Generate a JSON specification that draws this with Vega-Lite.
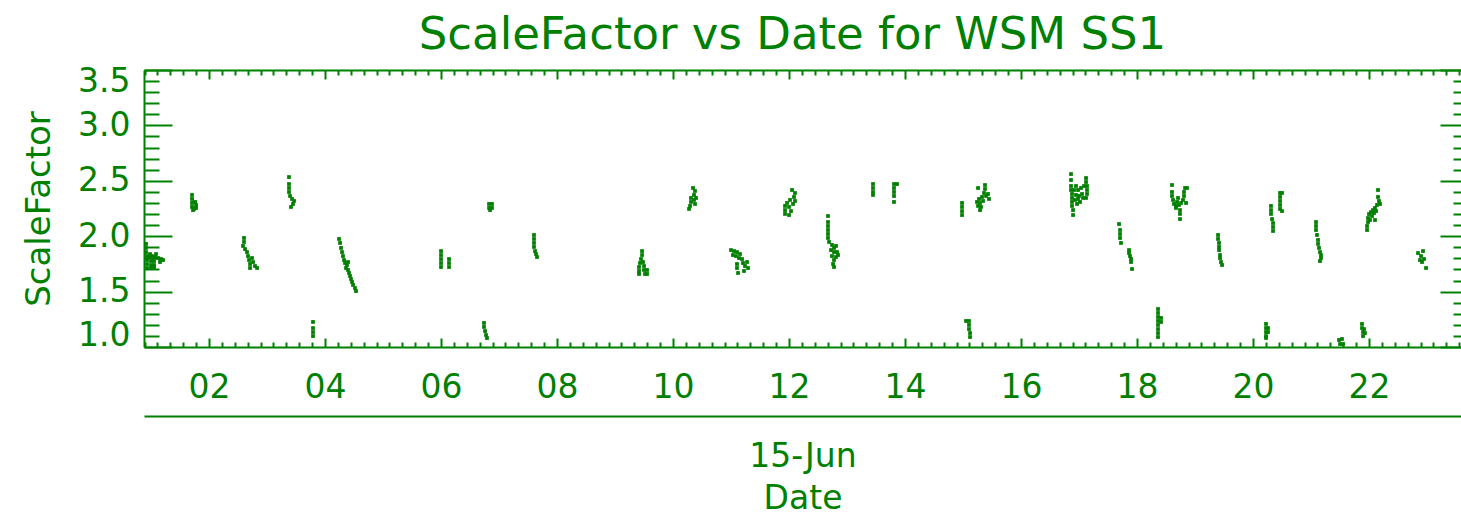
{
  "$schema": "https://vega.github.io/schema/vega-lite/v6.json",
  "width": 1317,
  "height": 277,
  "autosize": {"type": "none"},
  "padding": {"left": 144, "top": 70, "right": 0, "bottom": 168},
  "background": "white",
  "title": {
    "text": "ScaleFactor vs Date for WSM SS1",
    "font": "DejaVu Sans",
    "fontSize": 45,
    "fontWeight": "normal",
    "color": "#008000",
    "anchor": "middle",
    "frame": "group",
    "offset": 14,
    "baseline": "alphabetic",
    "dx": -10,
    "dy": 43
  },
  "config": {
    "view": {"stroke": null},
    "axis": {
      "domainColor": "#008000",
      "tickColor": "#008000",
      "labelColor": "#008000",
      "titleColor": "#008000",
      "domainWidth": 2,
      "tickWidth": 2,
      "grid": false,
      "labelFont": "DejaVu Sans",
      "titleFont": "DejaVu Sans",
      "labelFontSize": 33,
      "titleFontSize": 34,
      "titleFontWeight": "normal",
      "labelOverlap": false
    }
  },
  "data": {
    "values": [
      {"hour": 0.914, "ScaleFactor": 1.930}, {"hour": 0.914, "ScaleFactor": 1.894}, {"hour": 0.914, "ScaleFactor": 1.857},
      {"hour": 0.931, "ScaleFactor": 1.821}, {"hour": 0.966, "ScaleFactor": 1.812}, {"hour": 1.017, "ScaleFactor": 1.821},
      {"hour": 1.069, "ScaleFactor": 1.812}, {"hour": 1.121, "ScaleFactor": 1.803}, {"hour": 1.172, "ScaleFactor": 1.794},
      {"hour": 1.207, "ScaleFactor": 1.785}, {"hour": 0.931, "ScaleFactor": 1.785}, {"hour": 0.931, "ScaleFactor": 1.749},
      {"hour": 0.931, "ScaleFactor": 1.713}, {"hour": 1.000, "ScaleFactor": 1.776}, {"hour": 1.000, "ScaleFactor": 1.740},
      {"hour": 1.000, "ScaleFactor": 1.713}, {"hour": 1.052, "ScaleFactor": 1.776}, {"hour": 1.052, "ScaleFactor": 1.740},
      {"hour": 1.052, "ScaleFactor": 1.713}, {"hour": 0.983, "ScaleFactor": 1.839}, {"hour": 1.086, "ScaleFactor": 1.839},
      {"hour": 1.155, "ScaleFactor": 1.767},
      {"hour": 1.707, "ScaleFactor": 2.372}, {"hour": 1.707, "ScaleFactor": 2.336}, {"hour": 1.707, "ScaleFactor": 2.300},
      {"hour": 1.707, "ScaleFactor": 2.264}, {"hour": 1.724, "ScaleFactor": 2.236}, {"hour": 1.759, "ScaleFactor": 2.309},
      {"hour": 1.776, "ScaleFactor": 2.282}, {"hour": 1.776, "ScaleFactor": 2.255}, {"hour": 1.741, "ScaleFactor": 2.246},
      {"hour": 2.603, "ScaleFactor": 1.984}, {"hour": 2.603, "ScaleFactor": 1.948}, {"hour": 2.586, "ScaleFactor": 1.912},
      {"hour": 2.621, "ScaleFactor": 1.884}, {"hour": 2.655, "ScaleFactor": 1.857}, {"hour": 2.672, "ScaleFactor": 1.821},
      {"hour": 2.690, "ScaleFactor": 1.785}, {"hour": 2.707, "ScaleFactor": 1.749}, {"hour": 2.707, "ScaleFactor": 1.713},
      {"hour": 2.741, "ScaleFactor": 1.803}, {"hour": 2.759, "ScaleFactor": 1.767}, {"hour": 2.793, "ScaleFactor": 1.731},
      {"hour": 2.828, "ScaleFactor": 1.713},
      {"hour": 3.379, "ScaleFactor": 2.534}, {"hour": 3.379, "ScaleFactor": 2.471}, {"hour": 3.379, "ScaleFactor": 2.435},
      {"hour": 3.379, "ScaleFactor": 2.399}, {"hour": 3.397, "ScaleFactor": 2.363}, {"hour": 3.431, "ScaleFactor": 2.336},
      {"hour": 3.466, "ScaleFactor": 2.318}, {"hour": 3.448, "ScaleFactor": 2.291}, {"hour": 3.414, "ScaleFactor": 2.264},
      {"hour": 3.793, "ScaleFactor": 1.226}, {"hour": 3.793, "ScaleFactor": 1.171}, {"hour": 3.793, "ScaleFactor": 1.135},
      {"hour": 3.793, "ScaleFactor": 1.099},
      {"hour": 4.241, "ScaleFactor": 1.975}, {"hour": 4.259, "ScaleFactor": 1.939}, {"hour": 4.276, "ScaleFactor": 1.894},
      {"hour": 4.293, "ScaleFactor": 1.857}, {"hour": 4.310, "ScaleFactor": 1.821}, {"hour": 4.328, "ScaleFactor": 1.785},
      {"hour": 4.345, "ScaleFactor": 1.758}, {"hour": 4.379, "ScaleFactor": 1.740}, {"hour": 4.362, "ScaleFactor": 1.713},
      {"hour": 4.397, "ScaleFactor": 1.695}, {"hour": 4.414, "ScaleFactor": 1.668}, {"hour": 4.431, "ScaleFactor": 1.641},
      {"hour": 4.448, "ScaleFactor": 1.614}, {"hour": 4.466, "ScaleFactor": 1.587}, {"hour": 4.483, "ScaleFactor": 1.560},
      {"hour": 4.517, "ScaleFactor": 1.532}, {"hour": 4.534, "ScaleFactor": 1.505}, {"hour": 4.397, "ScaleFactor": 1.767},
      {"hour": 6.000, "ScaleFactor": 1.866}, {"hour": 6.000, "ScaleFactor": 1.830}, {"hour": 6.000, "ScaleFactor": 1.794},
      {"hour": 6.000, "ScaleFactor": 1.758}, {"hour": 6.000, "ScaleFactor": 1.722}, {"hour": 6.138, "ScaleFactor": 1.794},
      {"hour": 6.138, "ScaleFactor": 1.758}, {"hour": 6.138, "ScaleFactor": 1.722},
      {"hour": 6.741, "ScaleFactor": 1.217}, {"hour": 6.741, "ScaleFactor": 1.181}, {"hour": 6.759, "ScaleFactor": 1.144},
      {"hour": 6.776, "ScaleFactor": 1.108}, {"hour": 6.793, "ScaleFactor": 1.081},
      {"hour": 6.828, "ScaleFactor": 2.291}, {"hour": 6.879, "ScaleFactor": 2.291}, {"hour": 6.828, "ScaleFactor": 2.255},
      {"hour": 6.879, "ScaleFactor": 2.255}, {"hour": 6.845, "ScaleFactor": 2.236},
      {"hour": 7.603, "ScaleFactor": 2.011}, {"hour": 7.603, "ScaleFactor": 1.975}, {"hour": 7.603, "ScaleFactor": 1.939},
      {"hour": 7.603, "ScaleFactor": 1.903}, {"hour": 7.621, "ScaleFactor": 1.866}, {"hour": 7.638, "ScaleFactor": 1.839},
      {"hour": 7.655, "ScaleFactor": 1.812},
      {"hour": 9.466, "ScaleFactor": 1.866}, {"hour": 9.466, "ScaleFactor": 1.830}, {"hour": 9.448, "ScaleFactor": 1.794},
      {"hour": 9.431, "ScaleFactor": 1.758}, {"hour": 9.414, "ScaleFactor": 1.722}, {"hour": 9.414, "ScaleFactor": 1.686},
      {"hour": 9.414, "ScaleFactor": 1.659}, {"hour": 9.483, "ScaleFactor": 1.767}, {"hour": 9.500, "ScaleFactor": 1.731},
      {"hour": 9.500, "ScaleFactor": 1.695}, {"hour": 9.517, "ScaleFactor": 1.659}, {"hour": 9.552, "ScaleFactor": 1.695},
      {"hour": 9.552, "ScaleFactor": 1.659},
      {"hour": 10.345, "ScaleFactor": 2.435}, {"hour": 10.379, "ScaleFactor": 2.408}, {"hour": 10.362, "ScaleFactor": 2.372},
      {"hour": 10.310, "ScaleFactor": 2.345}, {"hour": 10.310, "ScaleFactor": 2.309}, {"hour": 10.362, "ScaleFactor": 2.327},
      {"hour": 10.379, "ScaleFactor": 2.291}, {"hour": 10.293, "ScaleFactor": 2.273}, {"hour": 10.276, "ScaleFactor": 2.246},
      {"hour": 10.397, "ScaleFactor": 2.345},
      {"hour": 11.000, "ScaleFactor": 1.875}, {"hour": 11.052, "ScaleFactor": 1.866}, {"hour": 11.103, "ScaleFactor": 1.857},
      {"hour": 11.155, "ScaleFactor": 1.839}, {"hour": 11.034, "ScaleFactor": 1.830}, {"hour": 11.086, "ScaleFactor": 1.821},
      {"hour": 11.138, "ScaleFactor": 1.803}, {"hour": 11.190, "ScaleFactor": 1.794}, {"hour": 11.103, "ScaleFactor": 1.749},
      {"hour": 11.103, "ScaleFactor": 1.713}, {"hour": 11.121, "ScaleFactor": 1.668}, {"hour": 11.207, "ScaleFactor": 1.758},
      {"hour": 11.241, "ScaleFactor": 1.731}, {"hour": 11.276, "ScaleFactor": 1.767}, {"hour": 11.293, "ScaleFactor": 1.713},
      {"hour": 11.224, "ScaleFactor": 1.686},
      {"hour": 12.052, "ScaleFactor": 2.417}, {"hour": 12.103, "ScaleFactor": 2.390}, {"hour": 12.086, "ScaleFactor": 2.354},
      {"hour": 12.017, "ScaleFactor": 2.327}, {"hour": 11.966, "ScaleFactor": 2.300}, {"hour": 11.931, "ScaleFactor": 2.273},
      {"hour": 11.931, "ScaleFactor": 2.236}, {"hour": 11.931, "ScaleFactor": 2.201}, {"hour": 12.000, "ScaleFactor": 2.264},
      {"hour": 12.034, "ScaleFactor": 2.227}, {"hour": 12.000, "ScaleFactor": 2.191}, {"hour": 12.069, "ScaleFactor": 2.291},
      {"hour": 12.103, "ScaleFactor": 2.318},
      {"hour": 12.672, "ScaleFactor": 2.182}, {"hour": 12.672, "ScaleFactor": 2.128}, {"hour": 12.672, "ScaleFactor": 2.092},
      {"hour": 12.672, "ScaleFactor": 2.056}, {"hour": 12.672, "ScaleFactor": 2.020}, {"hour": 12.672, "ScaleFactor": 1.984},
      {"hour": 12.690, "ScaleFactor": 1.948}, {"hour": 12.741, "ScaleFactor": 1.921}, {"hour": 12.776, "ScaleFactor": 1.894},
      {"hour": 12.810, "ScaleFactor": 1.912}, {"hour": 12.724, "ScaleFactor": 1.875}, {"hour": 12.776, "ScaleFactor": 1.857},
      {"hour": 12.828, "ScaleFactor": 1.857}, {"hour": 12.741, "ScaleFactor": 1.821}, {"hour": 12.810, "ScaleFactor": 1.812},
      {"hour": 12.776, "ScaleFactor": 1.785}, {"hour": 12.759, "ScaleFactor": 1.749}, {"hour": 12.776, "ScaleFactor": 1.722},
      {"hour": 12.845, "ScaleFactor": 1.830},
      {"hour": 13.448, "ScaleFactor": 2.471}, {"hour": 13.448, "ScaleFactor": 2.435}, {"hour": 13.448, "ScaleFactor": 2.399},
      {"hour": 13.448, "ScaleFactor": 2.372},
      {"hour": 13.810, "ScaleFactor": 2.471}, {"hour": 13.862, "ScaleFactor": 2.471}, {"hour": 13.810, "ScaleFactor": 2.435},
      {"hour": 13.810, "ScaleFactor": 2.399}, {"hour": 13.810, "ScaleFactor": 2.363}, {"hour": 13.810, "ScaleFactor": 2.309},
      {"hour": 14.983, "ScaleFactor": 2.300}, {"hour": 14.983, "ScaleFactor": 2.264}, {"hour": 14.983, "ScaleFactor": 2.227},
      {"hour": 14.983, "ScaleFactor": 2.191},
      {"hour": 15.052, "ScaleFactor": 1.235}, {"hour": 15.103, "ScaleFactor": 1.235}, {"hour": 15.103, "ScaleFactor": 1.199},
      {"hour": 15.103, "ScaleFactor": 1.162}, {"hour": 15.121, "ScaleFactor": 1.126}, {"hour": 15.121, "ScaleFactor": 1.090},
      {"hour": 15.259, "ScaleFactor": 2.435}, {"hour": 15.379, "ScaleFactor": 2.462}, {"hour": 15.379, "ScaleFactor": 2.426},
      {"hour": 15.362, "ScaleFactor": 2.390}, {"hour": 15.328, "ScaleFactor": 2.354}, {"hour": 15.276, "ScaleFactor": 2.336},
      {"hour": 15.241, "ScaleFactor": 2.309}, {"hour": 15.293, "ScaleFactor": 2.300}, {"hour": 15.345, "ScaleFactor": 2.318},
      {"hour": 15.259, "ScaleFactor": 2.273}, {"hour": 15.310, "ScaleFactor": 2.264}, {"hour": 15.293, "ScaleFactor": 2.236},
      {"hour": 15.431, "ScaleFactor": 2.381}, {"hour": 15.448, "ScaleFactor": 2.336}, {"hour": 15.397, "ScaleFactor": 2.363},
      {"hour": 16.862, "ScaleFactor": 2.561}, {"hour": 16.862, "ScaleFactor": 2.507}, {"hour": 16.862, "ScaleFactor": 2.453},
      {"hour": 16.862, "ScaleFactor": 2.417}, {"hour": 16.879, "ScaleFactor": 2.381}, {"hour": 16.879, "ScaleFactor": 2.345},
      {"hour": 16.879, "ScaleFactor": 2.309}, {"hour": 16.879, "ScaleFactor": 2.273}, {"hour": 16.897, "ScaleFactor": 2.236},
      {"hour": 16.897, "ScaleFactor": 2.191}, {"hour": 16.931, "ScaleFactor": 2.327}, {"hour": 16.948, "ScaleFactor": 2.372},
      {"hour": 16.983, "ScaleFactor": 2.417}, {"hour": 17.000, "ScaleFactor": 2.363}, {"hour": 17.034, "ScaleFactor": 2.435},
      {"hour": 17.052, "ScaleFactor": 2.381}, {"hour": 17.017, "ScaleFactor": 2.309}, {"hour": 16.966, "ScaleFactor": 2.291},
      {"hour": 16.983, "ScaleFactor": 2.336}, {"hour": 17.086, "ScaleFactor": 2.453}, {"hour": 17.121, "ScaleFactor": 2.525},
      {"hour": 17.121, "ScaleFactor": 2.489}, {"hour": 17.138, "ScaleFactor": 2.453}, {"hour": 17.138, "ScaleFactor": 2.417},
      {"hour": 17.138, "ScaleFactor": 2.381}, {"hour": 17.121, "ScaleFactor": 2.345}, {"hour": 17.069, "ScaleFactor": 2.345},
      {"hour": 16.948, "ScaleFactor": 2.453}, {"hour": 16.914, "ScaleFactor": 2.417},
      {"hour": 17.690, "ScaleFactor": 2.110}, {"hour": 17.707, "ScaleFactor": 2.056}, {"hour": 17.707, "ScaleFactor": 2.020},
      {"hour": 17.707, "ScaleFactor": 1.984}, {"hour": 17.724, "ScaleFactor": 1.939},
      {"hour": 17.862, "ScaleFactor": 1.875}, {"hour": 17.862, "ScaleFactor": 1.848}, {"hour": 17.879, "ScaleFactor": 1.821},
      {"hour": 17.897, "ScaleFactor": 1.794}, {"hour": 17.897, "ScaleFactor": 1.767}, {"hour": 17.914, "ScaleFactor": 1.704},
      {"hour": 18.362, "ScaleFactor": 1.343}, {"hour": 18.362, "ScaleFactor": 1.307}, {"hour": 18.362, "ScaleFactor": 1.271},
      {"hour": 18.362, "ScaleFactor": 1.235}, {"hour": 18.362, "ScaleFactor": 1.199}, {"hour": 18.362, "ScaleFactor": 1.162},
      {"hour": 18.362, "ScaleFactor": 1.126}, {"hour": 18.362, "ScaleFactor": 1.090}, {"hour": 18.414, "ScaleFactor": 1.262},
      {"hour": 18.414, "ScaleFactor": 1.226},
      {"hour": 18.603, "ScaleFactor": 2.462}, {"hour": 18.603, "ScaleFactor": 2.399}, {"hour": 18.603, "ScaleFactor": 2.363},
      {"hour": 18.621, "ScaleFactor": 2.327}, {"hour": 18.638, "ScaleFactor": 2.291}, {"hour": 18.672, "ScaleFactor": 2.273},
      {"hour": 18.690, "ScaleFactor": 2.309}, {"hour": 18.724, "ScaleFactor": 2.282}, {"hour": 18.759, "ScaleFactor": 2.300},
      {"hour": 18.793, "ScaleFactor": 2.327}, {"hour": 18.810, "ScaleFactor": 2.363}, {"hour": 18.810, "ScaleFactor": 2.399},
      {"hour": 18.828, "ScaleFactor": 2.435}, {"hour": 18.862, "ScaleFactor": 2.435}, {"hour": 18.672, "ScaleFactor": 2.255},
      {"hour": 18.741, "ScaleFactor": 2.236}, {"hour": 18.741, "ScaleFactor": 2.201}, {"hour": 18.741, "ScaleFactor": 2.155},
      {"hour": 18.707, "ScaleFactor": 2.345}, {"hour": 18.845, "ScaleFactor": 2.300},
      {"hour": 19.397, "ScaleFactor": 2.011}, {"hour": 19.397, "ScaleFactor": 1.975}, {"hour": 19.414, "ScaleFactor": 1.939},
      {"hour": 19.414, "ScaleFactor": 1.903}, {"hour": 19.414, "ScaleFactor": 1.875}, {"hour": 19.431, "ScaleFactor": 1.830},
      {"hour": 19.431, "ScaleFactor": 1.803}, {"hour": 19.448, "ScaleFactor": 1.767}, {"hour": 19.466, "ScaleFactor": 1.740},
      {"hour": 20.224, "ScaleFactor": 1.208}, {"hour": 20.224, "ScaleFactor": 1.171}, {"hour": 20.224, "ScaleFactor": 1.135},
      {"hour": 20.224, "ScaleFactor": 1.099}, {"hour": 20.224, "ScaleFactor": 1.081}, {"hour": 20.259, "ScaleFactor": 1.171},
      {"hour": 20.259, "ScaleFactor": 1.135},
      {"hour": 20.310, "ScaleFactor": 2.273}, {"hour": 20.310, "ScaleFactor": 2.236}, {"hour": 20.310, "ScaleFactor": 2.201},
      {"hour": 20.328, "ScaleFactor": 2.155}, {"hour": 20.345, "ScaleFactor": 2.119}, {"hour": 20.345, "ScaleFactor": 2.083},
      {"hour": 20.345, "ScaleFactor": 2.047}, {"hour": 20.466, "ScaleFactor": 2.390}, {"hour": 20.500, "ScaleFactor": 2.390},
      {"hour": 20.466, "ScaleFactor": 2.354}, {"hour": 20.466, "ScaleFactor": 2.318}, {"hour": 20.466, "ScaleFactor": 2.282},
      {"hour": 20.466, "ScaleFactor": 2.246}, {"hour": 20.500, "ScaleFactor": 2.227},
      {"hour": 21.086, "ScaleFactor": 2.128}, {"hour": 21.086, "ScaleFactor": 2.092}, {"hour": 21.086, "ScaleFactor": 2.056},
      {"hour": 21.103, "ScaleFactor": 2.011}, {"hour": 21.121, "ScaleFactor": 1.966}, {"hour": 21.121, "ScaleFactor": 1.930},
      {"hour": 21.138, "ScaleFactor": 1.894}, {"hour": 21.155, "ScaleFactor": 1.857}, {"hour": 21.172, "ScaleFactor": 1.830},
      {"hour": 21.172, "ScaleFactor": 1.803}, {"hour": 21.155, "ScaleFactor": 1.776},
      {"hour": 21.483, "ScaleFactor": 1.063}, {"hour": 21.534, "ScaleFactor": 1.072}, {"hour": 21.500, "ScaleFactor": 1.027},
      {"hour": 21.552, "ScaleFactor": 1.027},
      {"hour": 21.879, "ScaleFactor": 1.208}, {"hour": 21.879, "ScaleFactor": 1.171}, {"hour": 21.897, "ScaleFactor": 1.135},
      {"hour": 21.897, "ScaleFactor": 1.099}, {"hour": 21.914, "ScaleFactor": 1.162}, {"hour": 21.931, "ScaleFactor": 1.126},
      {"hour": 22.155, "ScaleFactor": 2.417}, {"hour": 22.155, "ScaleFactor": 2.354}, {"hour": 22.172, "ScaleFactor": 2.318},
      {"hour": 22.138, "ScaleFactor": 2.282}, {"hour": 22.103, "ScaleFactor": 2.255}, {"hour": 22.069, "ScaleFactor": 2.236},
      {"hour": 22.034, "ScaleFactor": 2.218}, {"hour": 22.000, "ScaleFactor": 2.200}, {"hour": 21.983, "ScaleFactor": 2.164},
      {"hour": 21.983, "ScaleFactor": 2.128}, {"hour": 21.966, "ScaleFactor": 2.092}, {"hour": 21.966, "ScaleFactor": 2.056},
      {"hour": 22.052, "ScaleFactor": 2.182}, {"hour": 22.086, "ScaleFactor": 2.209}, {"hour": 22.121, "ScaleFactor": 2.227},
      {"hour": 22.103, "ScaleFactor": 2.146}, {"hour": 22.017, "ScaleFactor": 2.146}, {"hour": 22.190, "ScaleFactor": 2.291},
      {"hour": 22.845, "ScaleFactor": 1.848}, {"hour": 22.931, "ScaleFactor": 1.866}, {"hour": 22.897, "ScaleFactor": 1.821},
      {"hour": 22.948, "ScaleFactor": 1.794}, {"hour": 22.914, "ScaleFactor": 1.767}, {"hour": 22.879, "ScaleFactor": 1.785},
      {"hour": 22.983, "ScaleFactor": 1.713}
    ]
  },
  "layer": [
    {
      "mark": {"type": "square", "filled": true, "size": 14, "color": "#008000", "opacity": 1},
      "encoding": {
        "x": {
          "field": "hour", "type": "quantitative",
          "scale": {"domain": [0.879, 23.586], "nice": false, "zero": false},
          "axis": {
            "orient": "bottom", "values": [2, 4, 6, 8, 10, 12, 14, 16, 18, 20, 22], "format": "02d",
            "tickSize": -9, "labelPadding": 33, "title": null, "labelFlush": false, "domain": true
          }
        },
        "y": {
          "field": "ScaleFactor", "type": "quantitative",
          "scale": {"domain": [1, 3.5], "nice": false, "zero": false},
          "axis": {
            "orient": "left", "values": [1, 1.5, 2, 2.5, 3, 3.5], "format": ".1f",
            "tickSize": -28, "labelPadding": 42, "labelFlush": true, "labelFlushOffset": 5, "domain": true,
            "title": "ScaleFactor", "titlePadding": 21
          }
        }
      }
    },
    {
      "mark": {"type": "point", "opacity": 0},
      "encoding": {
        "x": {
          "field": "hour", "type": "quantitative",
          "axis": {
            "orient": "bottom", "labels": false, "domain": false, "title": null, "tickSize": -5,
            "values": [0.8889, 1.1111, 1.3333, 1.5556, 1.7778, 2.2222, 2.4444, 2.6667, 2.8889, 3.1111, 3.3333, 3.5556, 3.7778, 4.2222, 4.4444, 4.6667, 4.8889, 5.1111, 5.3333, 5.5556, 5.7778, 6.2222, 6.4444, 6.6667, 6.8889, 7.1111, 7.3333, 7.5556, 7.7778, 8.2222, 8.4444, 8.6667, 8.8889, 9.1111, 9.3333, 9.5556, 9.7778, 10.2222, 10.4444, 10.6667, 10.8889, 11.1111, 11.3333, 11.5556, 11.7778, 12.2222, 12.4444, 12.6667, 12.8889, 13.1111, 13.3333, 13.5556, 13.7778, 14.2222, 14.4444, 14.6667, 14.8889, 15.1111, 15.3333, 15.5556, 15.7778, 16.2222, 16.4444, 16.6667, 16.8889, 17.1111, 17.3333, 17.5556, 17.7778, 18.2222, 18.4444, 18.6667, 18.8889, 19.1111, 19.3333, 19.5556, 19.7778, 20.2222, 20.4444, 20.6667, 20.8889, 21.1111, 21.3333, 21.5556, 21.7778, 22.2222, 22.4444, 22.6667, 22.8889, 23.1111, 23.3333, 23.5556]
          }
        },
        "y": {
          "field": "ScaleFactor", "type": "quantitative",
          "axis": {
            "orient": "left", "labels": false, "domain": false, "title": null, "tickSize": -15,
            "values": [1.1, 1.2, 1.3, 1.4, 1.6, 1.7, 1.8, 1.9, 2.1, 2.2, 2.3, 2.4, 2.6, 2.7, 2.8, 2.9, 3.1, 3.2, 3.3, 3.4]
          }
        }
      }
    },
    {
      "mark": {"type": "point", "opacity": 0},
      "encoding": {
        "x": {
          "field": "hour", "type": "quantitative",
          "axis": {
            "orient": "top", "labels": false, "domain": true, "title": null, "tickSize": -9,
            "values": [2, 4, 6, 8, 10, 12, 14, 16, 18, 20, 22]
          }
        },
        "y": {
          "field": "ScaleFactor", "type": "quantitative",
          "axis": {
            "orient": "right", "labels": false, "domain": false, "title": null, "tickSize": -21,
            "values": [1, 1.5, 2, 2.5, 3, 3.5]
          }
        }
      }
    },
    {
      "mark": {"type": "point", "opacity": 0},
      "encoding": {
        "x": {
          "field": "hour", "type": "quantitative",
          "axis": {
            "orient": "top", "labels": false, "domain": false, "title": null, "tickSize": -5,
            "values": [0.8889, 1.1111, 1.3333, 1.5556, 1.7778, 2.2222, 2.4444, 2.6667, 2.8889, 3.1111, 3.3333, 3.5556, 3.7778, 4.2222, 4.4444, 4.6667, 4.8889, 5.1111, 5.3333, 5.5556, 5.7778, 6.2222, 6.4444, 6.6667, 6.8889, 7.1111, 7.3333, 7.5556, 7.7778, 8.2222, 8.4444, 8.6667, 8.8889, 9.1111, 9.3333, 9.5556, 9.7778, 10.2222, 10.4444, 10.6667, 10.8889, 11.1111, 11.3333, 11.5556, 11.7778, 12.2222, 12.4444, 12.6667, 12.8889, 13.1111, 13.3333, 13.5556, 13.7778, 14.2222, 14.4444, 14.6667, 14.8889, 15.1111, 15.3333, 15.5556, 15.7778, 16.2222, 16.4444, 16.6667, 16.8889, 17.1111, 17.3333, 17.5556, 17.7778, 18.2222, 18.4444, 18.6667, 18.8889, 19.1111, 19.3333, 19.5556, 19.7778, 20.2222, 20.4444, 20.6667, 20.8889, 21.1111, 21.3333, 21.5556, 21.7778, 22.2222, 22.4444, 22.6667, 22.8889, 23.1111, 23.3333, 23.5556]
          }
        },
        "y": {
          "field": "ScaleFactor", "type": "quantitative",
          "axis": {
            "orient": "right", "labels": false, "domain": false, "title": null, "tickSize": -8,
            "values": [1.1, 1.2, 1.3, 1.4, 1.6, 1.7, 1.8, 1.9, 2.1, 2.2, 2.3, 2.4, 2.6, 2.7, 2.8, 2.9, 3.1, 3.2, 3.3, 3.4]
          }
        }
      }
    },
    {
      "mark": {"type": "point", "opacity": 0},
      "encoding": {
        "x": {
          "field": "hour", "type": "quantitative",
          "axis": {
            "orient": "bottom", "offset": 69, "ticks": false, "labels": false, "domain": true,
            "title": ["15-Jun", "Date"], "titlePadding": 24, "titleFontSize": 33, "titleLineHeight": 42
          }
        },
        "y": {"field": "ScaleFactor", "type": "quantitative", "axis": null}
      }
    }
  ],
  "resolve": {"axis": {"x": "independent", "y": "independent"}}
}
